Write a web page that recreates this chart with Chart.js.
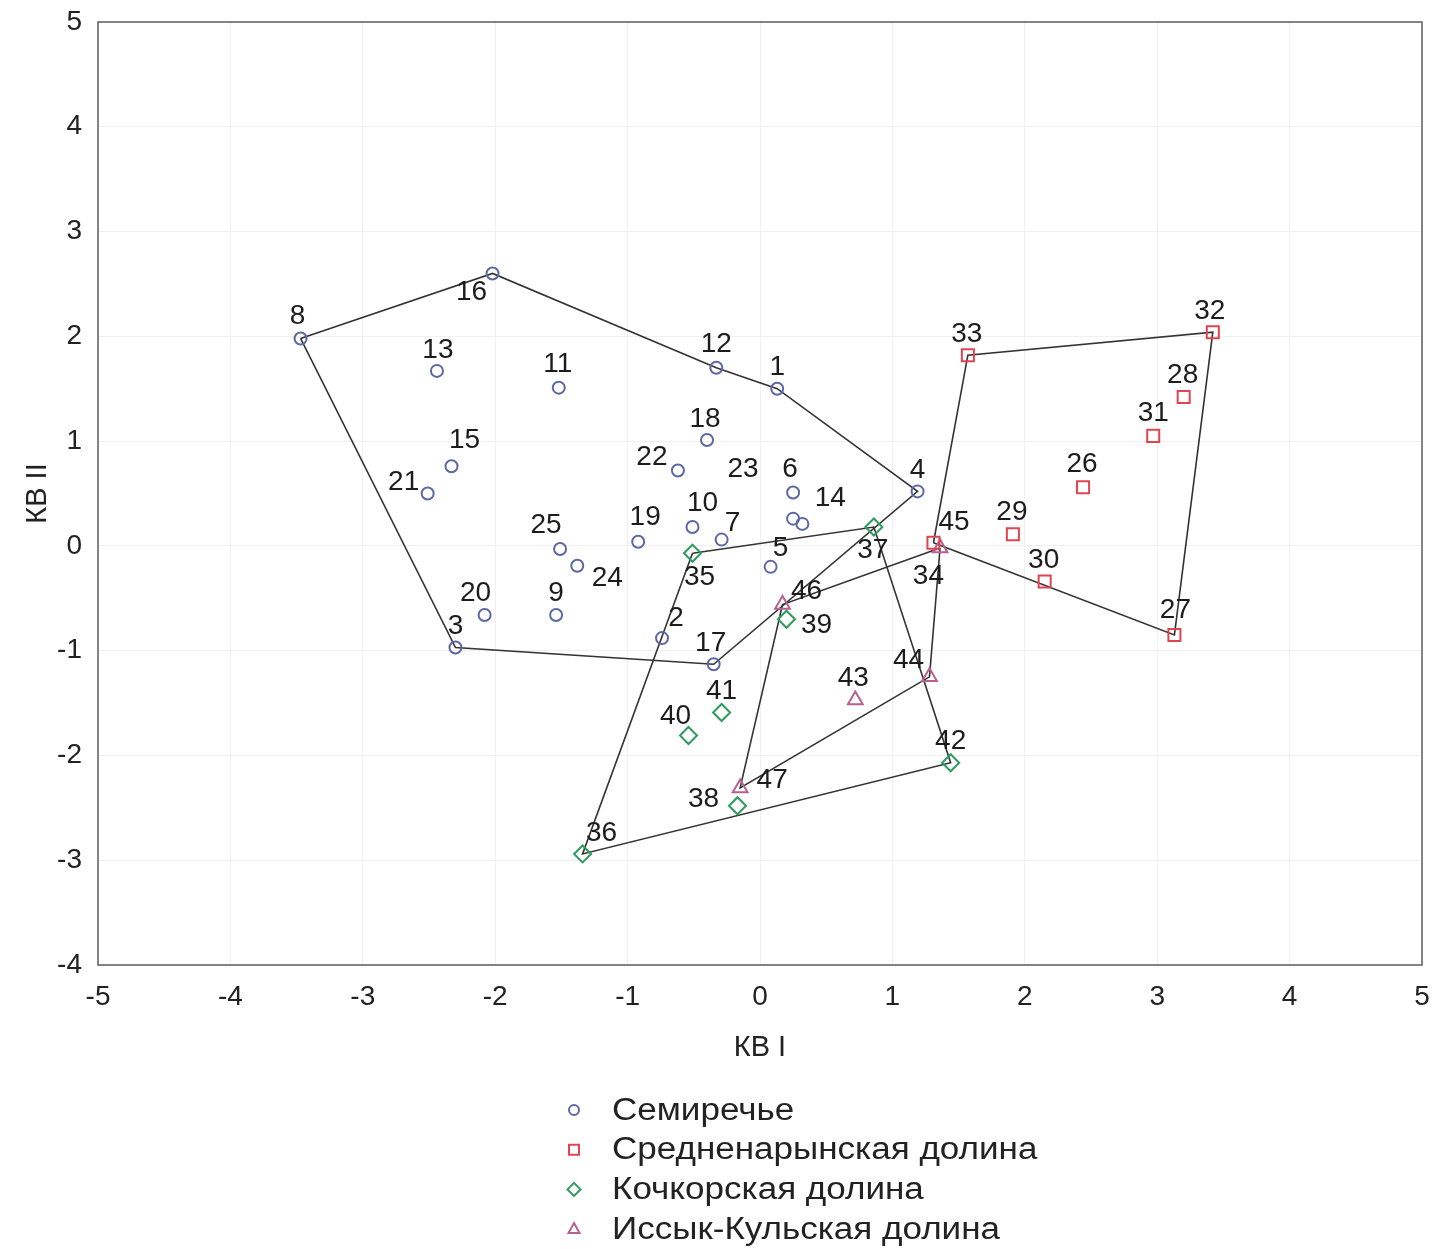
<!DOCTYPE html>
<html>
<head>
<meta charset="utf-8">
<script src="https://cdn.jsdelivr.net/npm/chart.js@4.4.1/dist/chart.umd.min.js"></script>
<style>
  html, body { margin: 0; padding: 0; background: #fff; }
  #wrap { width: 1435px; height: 1249px; }
</style>
</head>
<body>
<div id="wrap"><canvas id="chart"></canvas></div>
<script>
// Семиречье, samples 1-25
const semIds = [1, 2, 3, 4, 5, 6, 7, 8, 9, 10, 11, 12, 13, 14, 15, 16, 17, 18, 19, 20, 21, 22, 23, 24, 25];
const semX = [0.13, -0.74, -2.30, 1.19, 0.08, 0.25, -0.29, -3.47, -1.54, -0.51, -1.52, -0.33, -2.44, 0.32, -2.33, -2.02, -0.35, -0.40, -0.92, -2.08, -2.51, -0.62, 0.25, -1.38, -1.51];
const semY = [1.50, -0.88, -0.97, 0.52, -0.20, 0.51, 0.06, 1.98, -0.66, 0.18, 1.51, 1.70, 1.67, 0.21, 0.76, 2.60, -1.13, 1.01, 0.04, -0.66, 0.50, 0.72, 0.26, -0.19, -0.03];

// Средненарынская долина, 26-34
const narIds = [26, 27, 28, 29, 30, 31, 32, 33, 34];
const narX = [2.44, 3.13, 3.20, 1.91, 2.15, 2.97, 3.42, 1.57, 1.31];
const narY = [0.56, -0.85, 1.42, 0.11, -0.34, 1.05, 2.04, 1.82, 0.03];

// Кочкорская долина, 35-42
const kochIds = [35, 36, 37, 38, 39, 40, 41, 42];
const kochX = [-0.51, -1.34, 0.86, -0.17, 0.20, -0.54, -0.29, 1.44];
const kochY = [-0.07, -2.94, 0.18, -2.48, -0.70, -1.81, -1.59, -2.07];

// Иссык-Кульская долина, 43-47
const issIds = [43, 44, 45, 46, 47];
const issX = [0.72, 1.28, 1.36, 0.17, -0.15];
const issY = [-1.47, -1.25, -0.02, -0.56, -2.31];

// outline of each group (sample numbers, in drawing order)
const semHull = [8, 16, 12, 1, 4, 17, 3];
const narHull = [34, 33, 32, 27];
const kochHull = [35, 37, 42, 36];
const issHull = [45, 44, 47, 46];

const groupNames = ['Семиречье', 'Средненарынская долина', 'Кочкорская долина', 'Иссык-Кульская долина'];
const xTicks = [-5, -4, -3, -2, -1, 0, 1, 2, 3, 4, 5];
const yTicks = [-4, -3, -2, -1, 0, 1, 2, 3, 4, 5];

const FONT = '"Liberation Sans", Arial, sans-serif';

const groups = [
    { name: groupNames[0], ids: semIds, x: semX, y: semY, hull: semHull, style: 'circle', color: '#5c68a4', r: 6 },
    { name: groupNames[1], ids: narIds, x: narX, y: narY, hull: narHull, style: 'rect', color: '#df4550', r: 8.5 },
    { name: groupNames[2], ids: kochIds, x: kochX, y: kochY, hull: kochHull, style: 'rectRot', color: '#2e9c5e', r: 8.5 },
    { name: groupNames[3], ids: issIds, x: issX, y: issY, hull: issHull, style: 'triangle', color: '#b8608e', r: 8.5 }
];

// label placement around each marker, px (layout only)
const labelOffsets = {
    1: [0, -21], 2: [14, -20], 3: [0, -21], 4: [0, -21], 5: [10, -19], 6: [-3, -23], 7: [11, -16],
    8: [-3, -22], 9: [0, -22], 10: [10, -24], 11: [-1, -23], 12: [0, -23], 13: [1, -21], 14: [28, -26],
    15: [13, -26], 16: [-21, 19], 17: [-3, -21], 18: [-2, -21], 19: [7, -24], 20: [-9, -22], 21: [-24, -11],
    22: [-26, -13], 23: [-50, -49], 24: [30, 12], 25: [-14, -24], 26: [-1, -23], 27: [1, -25], 28: [-1, -22],
    29: [-1, -22], 30: [-1, -21], 31: [0, -23], 32: [-3, -21], 33: [-1, -21], 34: [-5, 34], 35: [7, 24],
    36: [19, -21], 37: [-1, 23], 38: [-34, -6], 39: [30, 6], 40: [-13, -19], 41: [0, -21], 42: [0, -21],
    43: [-2, -22], 44: [-21, -17], 45: [14, -26], 46: [24, -13], 47: [32, -8]
};

function pointsOf(g) {
    return g.ids.map((id, i) => ({ x: g.x[i], y: g.y[i] }));
}

function hullOf(g) {
    const pts = g.hull.map(id => {
        const i = g.ids.indexOf(id);
        return { x: g.x[i], y: g.y[i] };
    });
    pts.push(pts[0]);
    return pts;
}

const datasets = [];
groups.forEach(g => {
    datasets.push({
        label: g.name + ' outline',
        data: hullOf(g),
        showLine: true,
        borderColor: '#333333',
        borderWidth: 1.6,
        pointRadius: 0,
        fill: false,
        order: 2
    });
});
groups.forEach(g => {
    datasets.push({
        label: g.name,
        data: pointsOf(g),
        pointStyle: g.style,
        pointRadius: g.r,
        pointBorderWidth: 2,
        pointBorderColor: g.color,
        pointBackgroundColor: 'rgba(255,255,255,0)',
        showLine: false,
        order: 1
    });
});

// simple marker painter for the legend
function drawMarker(ctx, style, x, y, r, color) {
    ctx.save();
    ctx.strokeStyle = color;
    ctx.lineWidth = 2;
    ctx.beginPath();
    if (style === 'circle') {
        ctx.arc(x, y, r, 0, Math.PI * 2);
    } else if (style === 'rect') {
        ctx.rect(x - r, y - r, 2 * r, 2 * r);
    } else if (style === 'rectRot') {
        ctx.moveTo(x, y - r * 1.3); ctx.lineTo(x + r * 1.3, y);
        ctx.lineTo(x, y + r * 1.3); ctx.lineTo(x - r * 1.3, y); ctx.closePath();
    } else {
        ctx.moveTo(x, y - r * 1.2); ctx.lineTo(x + r * 1.1, y + r * 0.8);
        ctx.lineTo(x - r * 1.1, y + r * 0.8); ctx.closePath();
    }
    ctx.stroke();
    ctx.restore();
}

const overlay = {
    id: 'overlay',
    afterDraw(chart) {
        const { ctx, chartArea: a, scales } = chart;
        const xs = scales.x, ys = scales.y;
        ctx.save();
        // frame around plot
        ctx.strokeStyle = '#5e5e5e';
        ctx.lineWidth = 1.5;
        ctx.strokeRect(a.left, a.top, a.right - a.left, a.bottom - a.top);

        // sample numbers
        ctx.font = '28px ' + FONT;
        ctx.fillStyle = '#1c1c1c';
        ctx.textAlign = 'center';
        ctx.textBaseline = 'middle';
        groups.forEach(g => {
            g.ids.forEach((id, i) => {
                const off = labelOffsets[id] || [0, -21];
                ctx.fillText(String(id), xs.getPixelForValue(g.x[i]) + off[0], ys.getPixelForValue(g.y[i]) + off[1]);
            });
        });

        // legend (text slightly widened like the source)
        ctx.font = '31px ' + FONT;
        ctx.textAlign = 'left';
        groups.forEach((g, i) => {
            const ly = 1110 + i * 39.7;
            drawMarker(ctx, g.style, 574, ly, 5, g.color);
            ctx.save();
            ctx.translate(612, ly + 1);
            ctx.scale(1.13, 1);
            ctx.fillStyle = '#222';
            ctx.fillText(g.name, 0, 0);
            ctx.restore();
        });
        ctx.restore();
    }
};

new Chart(document.getElementById('chart'), {
    type: 'scatter',
    data: { datasets: datasets },
    options: {
        responsive: true,
        maintainAspectRatio: false,
        animation: false,
        layout: { padding: { left: 0, right: 13, top: 22, bottom: 184 } },
        plugins: {
            legend: { display: false },
            tooltip: { enabled: false }
        },
        scales: {
            x: {
                type: 'linear',
                min: xTicks[0],
                max: xTicks[xTicks.length - 1],
                afterBuildTicks: s => { s.ticks = xTicks.map(v => ({ value: v })); },
                afterFit: s => { s.height = 100; s.paddingLeft = 0; s.paddingRight = 0; },
                grid: { color: '#f0f0f0', drawTicks: false },
                border: { display: false },
                ticks: { padding: 15, color: '#222', font: { family: FONT, size: 28 } },
                title: { display: true, text: 'КВ I', color: '#222', padding: { top: 0, bottom: 0 }, font: { family: FONT, size: 29 } }
            },
            y: {
                type: 'linear',
                min: yTicks[0],
                max: yTicks[yTicks.length - 1],
                afterBuildTicks: s => { s.ticks = yTicks.map(v => ({ value: v })); },
                afterFit: s => { s.width = 98; s.paddingTop = 0; s.paddingBottom = 0; },
                grid: { color: '#f0f0f0', drawTicks: false },
                border: { display: false },
                ticks: { padding: 16, color: '#222', font: { family: FONT, size: 28 } },
                title: { display: true, text: 'КВ II', color: '#222', padding: { top: 21, bottom: 0 }, font: { family: FONT, size: 29 } }
            }
        }
    },
    plugins: [overlay]
});
</script>
</body>
</html>
